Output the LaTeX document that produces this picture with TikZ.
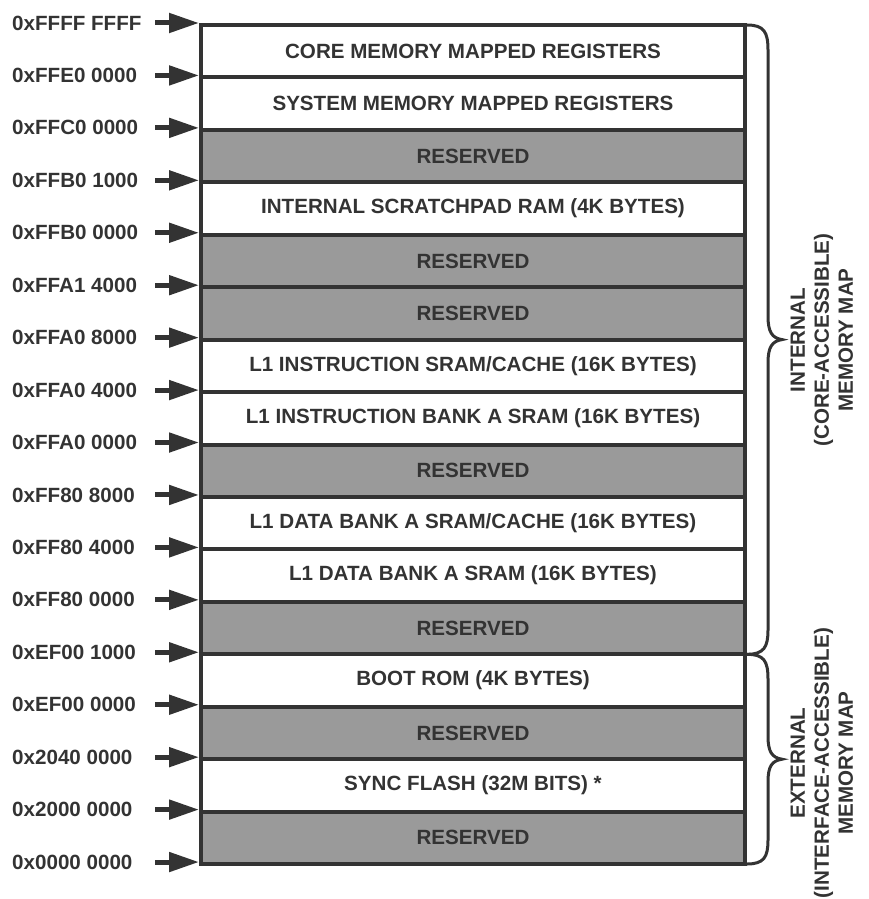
\documentclass[tikz,border=0pt]{standalone}
\usepackage{fontspec}
\setmainfont{Liberation Sans}
\usetikzlibrary{arrows.meta}
\definecolor{ink}{HTML}{333333}
\definecolor{shade}{HTML}{9A9A9A}

\begin{document}
\begin{tikzpicture}[x=1pt,y=-1pt,
  cell/.style={draw=ink, line width=4pt, outer sep=0pt, inner sep=0pt,
    minimum width=544pt, minimum height=52.44pt, anchor=north west,
    font=\bfseries\fontsize{20.6}{22}\selectfont, text=ink},
  open/.style={cell, fill=white},
  resv/.style={cell, fill=shade},
  addr/.style={anchor=west, inner sep=0pt, font=\bfseries\fontsize{20.6}{22}\selectfont, text=ink},
  ptr/.style={draw=ink, line width=5pt, -{Triangle[length=30pt,width=19pt]}},
  curly/.style={draw=ink, line width=3pt, line cap=round},
  side/.style={rotate=90, align=center, inner sep=0pt,
    font=\bfseries\fontsize{20.6}{24}\selectfont, text=ink}]

\useasboundingbox (0,0) rectangle (868,899);

% memory regions, top (highest address) to bottom
\node[open] (r1)  at (201,{25+52.44*0})  {CORE MEMORY MAPPED REGISTERS};
\node[open] (r2)  at (201,{25+52.44*1})  {SYSTEM MEMORY MAPPED REGISTERS};
\node[resv] (r3)  at (201,{25+52.44*2})  {RESERVED};
\node[open] (r4)  at (201,{25+52.44*3})  {INTERNAL SCRATCHPAD RAM (4K BYTES)};
\node[resv] (r5)  at (201,{25+52.44*4})  {RESERVED};
\node[resv] (r6)  at (201,{25+52.44*5})  {RESERVED};
\node[open] (r7)  at (201,{25+52.44*6})  {L1 INSTRUCTION SRAM/CACHE (16K BYTES)};
\node[open] (r8)  at (201,{25+52.44*7})  {L1 INSTRUCTION BANK A SRAM (16K BYTES)};
\node[resv] (r9)  at (201,{25+52.44*8})  {RESERVED};
\node[open] (r10) at (201,{25+52.44*9})  {L1 DATA BANK A SRAM/CACHE (16K BYTES)};
\node[open] (r11) at (201,{25+52.44*10}) {L1 DATA BANK A SRAM (16K BYTES)};
\node[resv] (r12) at (201,{25+52.44*11}) {RESERVED};
\node[open] (r13) at (201,{25+52.44*12}) {BOOT ROM (4K BYTES)};
\node[resv] (r14) at (201,{25+52.44*13}) {RESERVED};
\node[open] (r15) at (201,{25+52.44*14}) {SYNC FLASH (32M BITS) *};
\node[resv] (r16) at (201,{25+52.44*15}) {RESERVED};

% boundary addresses with pointer arrows
\foreach \a [count=\k from 0] in {0xFFFF FFFF, 0xFFE0 0000, 0xFFC0 0000, 0xFFB0 1000,
    0xFFB0 0000, 0xFFA1 4000, 0xFFA0 8000, 0xFFA0 4000, 0xFFA0 0000, 0xFF80 8000,
    0xFF80 4000, 0xFF80 0000, 0xEF00 1000, 0xEF00 0000, 0x2040 0000, 0x2000 0000,
    0x0000 0000} {
  \node[addr] (a\k) at (12,{24+52.44*\k-1}) {\a};
  \coordinate (t\k) at (155,{24+52.44*\k-1});
  \coordinate (p\k) at (199,{24+52.44*\k-1});
  \draw[ptr] (t\k) -- (p\k);
}

% braces grouping the internal and external regions
\coordinate (bi0) at (747,25);
\coordinate (bi1) at (782,339.6);
\coordinate (bi2) at (747,654.3);
\coordinate (be1) at (782,759.2);
\coordinate (be2) at (747,864);
\draw[curly] (bi0) .. controls (764,25) and (768,32) .. (768,50) -- (768,316)
  .. controls (768,332) and (772,338) .. (bi1)
  .. controls (772,341.2) and (768,347) .. (768,363) -- (768,630)
  .. controls (768,647) and (764,654.3) .. (bi2);
\draw[curly] (bi2) .. controls (764,654.3) and (768,661) .. (768,679) -- (768,736)
  .. controls (768,752) and (772,757.6) .. (be1)
  .. controls (772,760.8) and (768,766) .. (768,782) -- (768,840)
  .. controls (768,857) and (764,864) .. (be2);

\node[side] (lint) at (822,340) {INTERNAL\\(CORE-ACCESSIBLE)\\MEMORY MAP};
\node[side] (lext) at (822,763) {EXTERNAL\\(INTERFACE-ACCESSIBLE)\\MEMORY MAP};
\end{tikzpicture}
\end{document}
